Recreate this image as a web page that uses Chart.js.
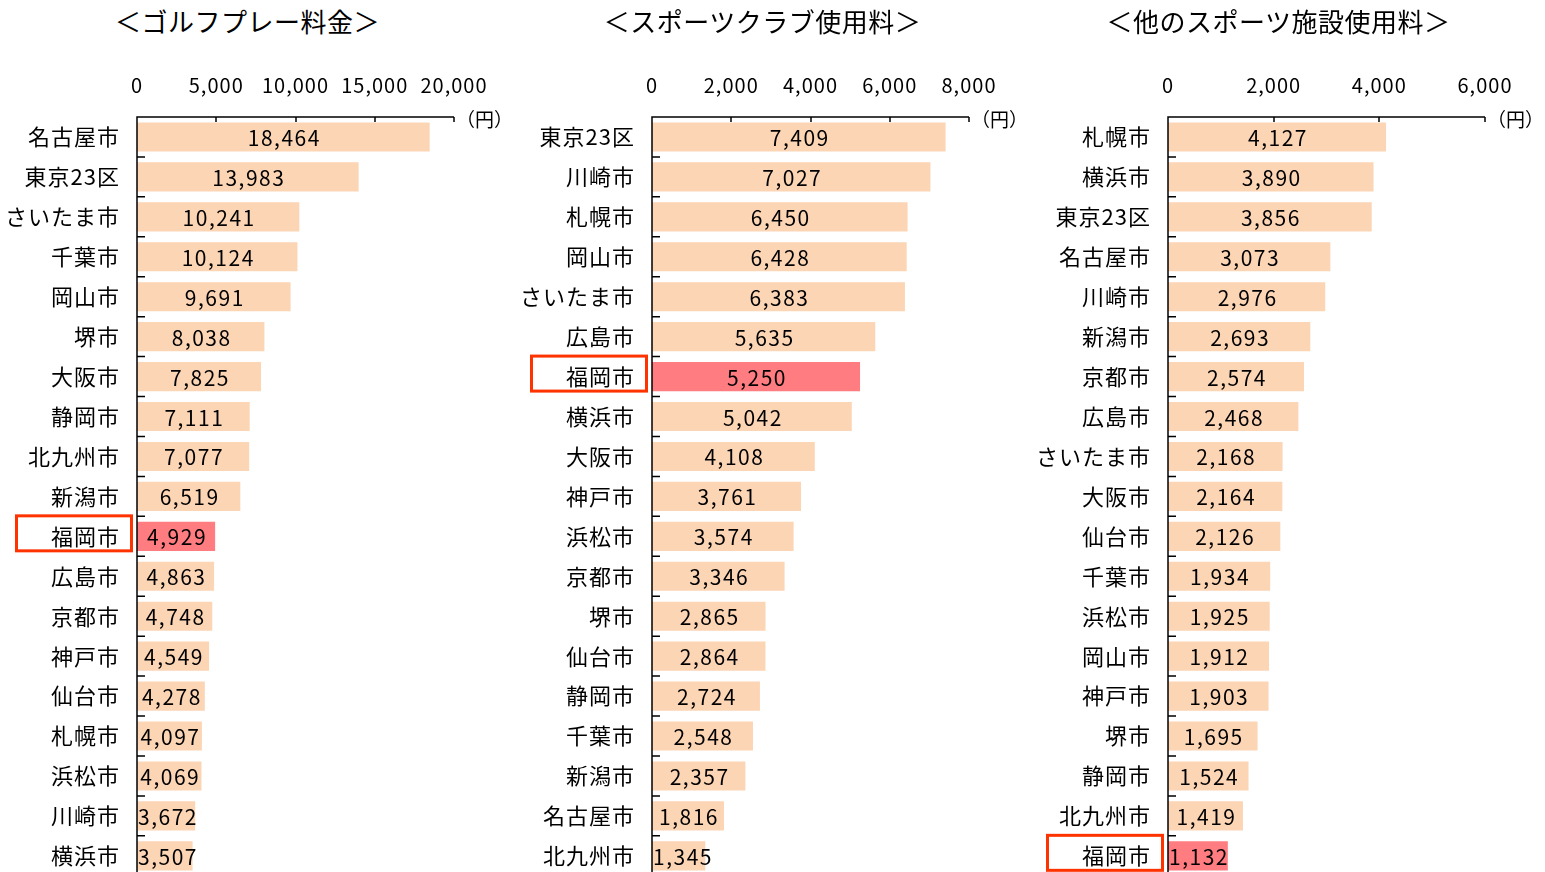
<!DOCTYPE html>
<html lang="ja">
<head>
<meta charset="utf-8">
<script src="https://cdn.jsdelivr.net/npm/chart.js@4/dist/chart.umd.min.js"></script>
<style>
  html, body { margin: 0; padding: 0; background: #fff; overflow: hidden; }
  .panel { position: absolute; top: 0; width: 515px; height: 898px; }
  .title {
    position: absolute; top: 2px; left: 0; width: 100%;
    font: 26px "Noto Sans CJK JP", sans-serif; color: #000;
    text-align: center; letter-spacing: 0.5px;
  }
  canvas { position: absolute; top: 0; left: 0; }
</style>
</head>
<body>
<div class="panel" style="left:0px"><div class="title" style="left:-10px">＜ゴルフプレー料金＞</div><canvas id="golf" width="515" height="898"></canvas></div>
<div class="panel" style="left:515px"><div class="title" style="left:-10px">＜スポーツクラブ使用料＞</div><canvas id="club" width="515" height="898"></canvas></div>
<div class="panel" style="left:1031px"><div class="title" style="left:-10px">＜他のスポーツ施設使用料＞</div><canvas id="other" width="515" height="898"></canvas></div>
<script>
// ゴルフプレー料金
const golfCities = ['名古屋市', '東京23区', 'さいたま市', '千葉市', '岡山市', '堺市', '大阪市', '静岡市', '北九州市', '新潟市',
  '福岡市', '広島市', '京都市', '神戸市', '仙台市', '札幌市', '浜松市', '川崎市', '横浜市'];
const golfValues = [18464, 13983, 10241, 10124, 9691, 8038, 7825, 7111, 7077, 6519,
  4929, 4863, 4748, 4549, 4278, 4097, 4069, 3672, 3507];
const golfTicks = [0, 5000, 10000, 15000, 20000];

// スポーツクラブ使用料
const clubCities = ['東京23区', '川崎市', '札幌市', '岡山市', 'さいたま市', '広島市', '福岡市', '横浜市', '大阪市', '神戸市',
  '浜松市', '京都市', '堺市', '仙台市', '静岡市', '千葉市', '新潟市', '名古屋市', '北九州市'];
const clubValues = [7409, 7027, 6450, 6428, 6383, 5635, 5250, 5042, 4108, 3761,
  3574, 3346, 2865, 2864, 2724, 2548, 2357, 1816, 1345];
const clubTicks = [0, 2000, 4000, 6000, 8000];

// 他のスポーツ施設使用料
const otherCities = ['札幌市', '横浜市', '東京23区', '名古屋市', '川崎市', '新潟市', '京都市', '広島市', 'さいたま市', '大阪市',
  '仙台市', '千葉市', '浜松市', '岡山市', '神戸市', '堺市', '静岡市', '北九州市', '福岡市'];
const otherValues = [4127, 3890, 3856, 3073, 2976, 2693, 2574, 2468, 2168, 2164,
  2126, 1934, 1925, 1912, 1903, 1695, 1524, 1419, 1132];
const otherTicks = [0, 2000, 4000, 6000];

const highlightCity = '福岡市';
const unitLabel = '（円）';

const FONT = '"Noto Sans CJK JP", sans-serif';
const fmt = v => Number(v).toLocaleString('en-US');

// axis lines, inner ticks, value labels, unit and highlight box
const decor = {
  id: 'decor',
  beforeDraw(chart) {
    chart.ctx.letterSpacing = '1px';
  },
  afterDatasetsDraw(chart) {
    const { ctx, chartArea: a, scales: { x, y } } = chart;
    const n = chart.data.labels.length;
    ctx.save();
    ctx.strokeStyle = '#000';
    ctx.lineWidth = 1.5;
    ctx.beginPath();
    ctx.moveTo(a.left, a.bottom);
    ctx.lineTo(a.left, a.top);
    ctx.lineTo(a.right, a.top);
    x.ticks.forEach(t => {
      const px = Math.round(x.getPixelForValue(t.value));
      ctx.moveTo(px, a.top);
      ctx.lineTo(px, a.top + 5);
    });
    for (let i = 0; i < n; i++) {
      const py = i === 0 ? a.top : (y.getPixelForValue(i - 1) + y.getPixelForValue(i)) / 2;
      ctx.moveTo(a.left, py);
      ctx.lineTo(a.left + 8, py);
    }
    ctx.stroke();

    // value labels (kept right of the axis for short bars)
    const meta = chart.getDatasetMeta(0);
    ctx.letterSpacing = '1.5px';
    ctx.font = '21px ' + FONT;
    ctx.fillStyle = '#000';
    ctx.textAlign = 'center';
    ctx.textBaseline = 'middle';
    meta.data.forEach((el, i) => {
      const txt = fmt(chart.data.datasets[0].data[i]);
      const w = ctx.measureText(txt).width;
      const cx = Math.max((el.x + el.base) / 2 + 1, el.base + w / 2 + 1);
      ctx.fillText(txt, cx, el.y + 1);
    });

    // unit
    ctx.letterSpacing = '0px';
    ctx.font = '19px ' + FONT;
    ctx.textAlign = 'left';
    ctx.fillText(unitLabel, a.right + 2, a.top + 3);

    // highlight box
    const idx = chart.data.labels.indexOf(highlightCity);
    if (idx >= 0) {
      const cy = y.getPixelForValue(idx) - 3;
      ctx.strokeStyle = '#FF3300';
      ctx.lineWidth = 3;
      ctx.strokeRect(16.5, cy - 17.5, a.left - 22, 35);
    }
    ctx.restore();
  }
};

function makeChart(id, cities, values, ticks) {
  new Chart(document.getElementById(id), {
    type: 'bar',
    data: {
      labels: cities,
      datasets: [{
        data: values,
        backgroundColor: cities.map(c => c === highlightCity ? '#FF7C80' : '#FCD5B5'),
        borderWidth: 0,
        barPercentage: 0.73,
        categoryPercentage: 1
      }]
    },
    options: {
      indexAxis: 'y',
      responsive: false,
      animation: false,
      devicePixelRatio: 1,
      layout: { padding: { left: 0, top: 0, right: 61, bottom: 5 } },
      plugins: { legend: { display: false }, tooltip: { enabled: false } },
      scales: {
        x: {
          position: 'top',
          min: ticks[0],
          max: ticks[ticks.length - 1],
          afterBuildTicks: s => { s.ticks = ticks.map(v => ({ value: v })); },
          afterFit: s => { s.height = 117; },
          grid: { display: false },
          border: { display: false },
          ticks: {
            color: '#000',
            padding: 12,
            font: { size: 20, family: FONT },
            callback: v => fmt(v)
          }
        },
        y: {
          afterFit: s => { s.width = 137; },
          grid: { display: false },
          border: { display: false },
          ticks: {
            color: '#000',
            padding: 9,
            font: { size: 22, family: FONT }
          }
        }
      }
    },
    plugins: [decor]
  });
}

makeChart('golf', golfCities, golfValues, golfTicks);
makeChart('club', clubCities, clubValues, clubTicks);
makeChart('other', otherCities, otherValues, otherTicks);
</script>
</body>
</html>
